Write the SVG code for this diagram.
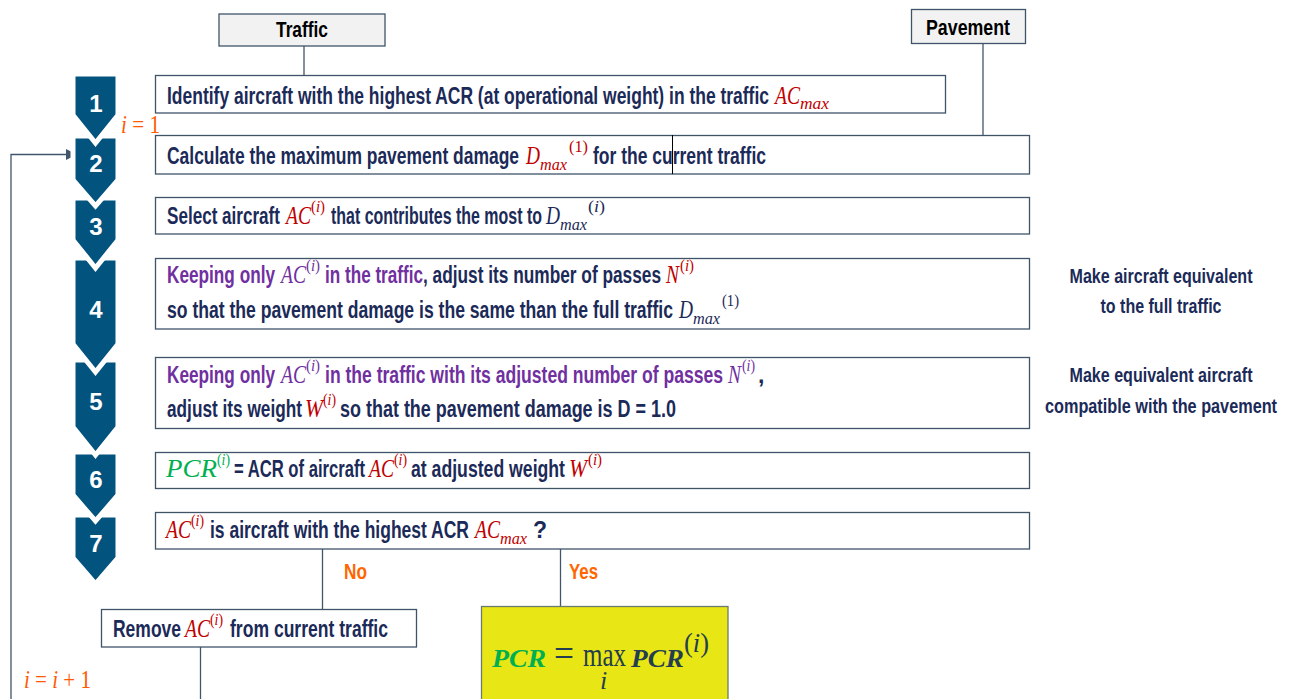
<svg xmlns="http://www.w3.org/2000/svg" width="1294" height="699" viewBox="0 0 1294 699">
<defs>
<style>
.box{fill:#fff;stroke:#3f5468;stroke-width:1.3}
.hdr{fill:#f2f2f2;stroke:#3f5468;stroke-width:1.3}
.ln{fill:none;stroke:#41566b;stroke-width:1.3}
.chev{fill:#03537f;stroke:#fff;stroke-width:5;stroke-linejoin:miter}
.num{font-family:"Liberation Sans Narrow","Liberation Sans",Arial,sans-serif;font-weight:bold;font-size:24px;fill:#fff;text-anchor:middle}
.t{font-family:"Liberation Sans Narrow","Liberation Sans",Arial,sans-serif;font-weight:bold;font-size:23px;fill:#1b2a58}
.side{font-family:"Liberation Sans Narrow","Liberation Sans",Arial,sans-serif;font-weight:bold;font-size:21px;fill:#1b2a58;text-anchor:middle}
.lab{font-family:"Liberation Sans Narrow","Liberation Sans",Arial,sans-serif;font-weight:bold;font-size:22px;fill:#000;text-anchor:middle}
.yn{font-family:"Liberation Sans Narrow","Liberation Sans",Arial,sans-serif;font-weight:bold;font-size:22px;fill:#ff6600}
.m{font-family:"Liberation Serif","DejaVu Serif",serif;font-style:italic;font-size:26px}
.s{font-family:"Liberation Serif","DejaVu Serif",serif;font-size:16px}
.sub{font-family:"Liberation Serif","DejaVu Serif",serif;font-style:italic;font-size:16px}
.it{font-style:italic}
.red{fill:#c00000}
.pur{fill:#7030a0}
.nav{fill:#1b2a58}
.grn{fill:#00b050}
.org{fill:#ff5a00}
.dk{fill:#243d4f}
</style>
<marker id="arr" markerWidth="11" markerHeight="11" refX="10" refY="5.5" orient="auto" markerUnits="userSpaceOnUse">
<path d="M0,0 L11,5.5 L0,11 Z" fill="#41566b"/>
</marker>
</defs>

<g id="connectors">
<line class="ln" x1="304" y1="46" x2="304" y2="75"/>
<line class="ln" x1="983" y1="43" x2="983" y2="135"/>
<line class="ln" x1="322.5" y1="549" x2="322.5" y2="609"/>
<line class="ln" x1="560.5" y1="549" x2="560.5" y2="606"/>
<line class="ln" x1="200.5" y1="647" x2="200.5" y2="699"/>
<polyline class="ln" points="11,699 11,154.5 76,154.5" marker-end="url(#arr)"/>
</g>

<g id="chevrons">
<polygon class="chev" points="73,515 118,515 118,558 95.5,584 73,558"/>
<polygon class="chev" points="73,452 118,452 118,495 95.5,521 73,495"/>
<polygon class="chev" points="73,360 118,360 118,427 95.5,455 73,427"/>
<polygon class="chev" points="73,258 118,258 118,344 95.5,372 73,344"/>
<polygon class="chev" points="73,198 118,198 118,240 95.5,268 73,240"/>
<polygon class="chev" points="73,136 118,136 118,180 95.5,206 73,180"/>
<polygon class="chev" points="73,74 118,74 118,115 95.5,143 73,115"/>
<text class="num" x="96" y="112">1</text>
<text class="num" x="96" y="172">2</text>
<text class="num" x="96" y="235">3</text>
<text class="num" x="96" y="318">4</text>
<text class="num" x="96" y="410">5</text>
<text class="num" x="96" y="488">6</text>
<text class="num" x="96" y="552">7</text>
</g>

<g id="traffic">
<rect class="hdr" x="219" y="14" width="166" height="32"/>
<text class="lab" x="302" y="37" textLength="52" lengthAdjust="spacingAndGlyphs">Traffic</text>
</g>

<g id="pavement">
<rect class="hdr" x="911.5" y="9.5" width="114" height="34"/>
<text class="lab" x="968" y="35" textLength="84" lengthAdjust="spacingAndGlyphs">Pavement</text>
</g>

<g id="step1">
<rect class="box" x="155.5" y="75.5" width="790" height="37.5"/>
<text class="t" x="167" y="104" textLength="602" lengthAdjust="spacingAndGlyphs">Identify aircraft with the highest ACR (at operational weight) in the traffic</text>
<text class="m red" x="775" y="104" textLength="25" lengthAdjust="spacingAndGlyphs">AC</text>
<text class="sub red" x="800" y="109" textLength="29" lengthAdjust="spacingAndGlyphs">max</text>
</g>

<g id="step2">
<rect class="box" x="155.5" y="135.5" width="874" height="38.5"/>
<text class="t" x="167" y="164" textLength="352" lengthAdjust="spacingAndGlyphs">Calculate the maximum pavement damage</text>
<text class="m red" x="526" y="164" textLength="14" lengthAdjust="spacingAndGlyphs">D</text>
<text class="sub red" x="540" y="170" textLength="27" lengthAdjust="spacingAndGlyphs">max</text>
<text class="s red" x="569" y="152" textLength="19" lengthAdjust="spacingAndGlyphs">(1)</text>
<text class="t" x="593" y="164" textLength="173" lengthAdjust="spacingAndGlyphs">for the current traffic</text>
<line x1="672.5" y1="135" x2="672.5" y2="174" stroke="#000" stroke-width="1"/>
</g>

<g id="step3">
<rect class="box" x="155.5" y="197.5" width="874" height="36.5"/>
<text class="t" x="167" y="224" textLength="113" lengthAdjust="spacingAndGlyphs">Select aircraft</text>
<text class="m red" x="286" y="224" textLength="25" lengthAdjust="spacingAndGlyphs">AC</text>
<text class="s red" x="311" y="212" textLength="14" lengthAdjust="spacingAndGlyphs">(<tspan class="it">i</tspan>)</text>
<text class="t" x="331" y="224" textLength="211" lengthAdjust="spacingAndGlyphs">that contributes the most to</text>
<text class="m nav" x="546" y="224" textLength="14" lengthAdjust="spacingAndGlyphs">D</text>
<text class="sub nav" x="560" y="230" textLength="27" lengthAdjust="spacingAndGlyphs">max</text>
<text class="s nav" x="588" y="212" textLength="17" lengthAdjust="spacingAndGlyphs">(<tspan class="it">i</tspan>)</text>
</g>

<g id="step4">
<rect class="box" x="155.5" y="258.5" width="874" height="70.5"/>
<text class="t pur" x="167" y="283" textLength="108" lengthAdjust="spacingAndGlyphs">Keeping only</text>
<text class="m pur" x="281" y="283" textLength="25" lengthAdjust="spacingAndGlyphs">AC</text>
<text class="s pur" x="306" y="271" textLength="14" lengthAdjust="spacingAndGlyphs">(<tspan class="it">i</tspan>)</text>
<text class="t pur" x="325" y="283" textLength="98" lengthAdjust="spacingAndGlyphs">in the traffic</text>
<text class="t" x="423" y="283" textLength="238" lengthAdjust="spacingAndGlyphs">, adjust its number of passes</text>
<text class="m red" x="666" y="283" textLength="13" lengthAdjust="spacingAndGlyphs">N</text>
<text class="s red" x="680" y="271" textLength="14" lengthAdjust="spacingAndGlyphs">(<tspan class="it">i</tspan>)</text>
<text class="t" x="167" y="318" textLength="506" lengthAdjust="spacingAndGlyphs">so that the pavement damage is the same than the full traffic</text>
<text class="m nav" x="679" y="318" textLength="14" lengthAdjust="spacingAndGlyphs">D</text>
<text class="sub nav" x="693" y="324" textLength="27" lengthAdjust="spacingAndGlyphs">max</text>
<text class="s nav" x="722" y="306" textLength="17" lengthAdjust="spacingAndGlyphs">(1)</text>
</g>

<g id="step5">
<rect class="box" x="155.5" y="357.5" width="874" height="71"/>
<text class="t pur" x="167" y="383" textLength="108" lengthAdjust="spacingAndGlyphs">Keeping only</text>
<text class="m pur" x="281" y="383" textLength="25" lengthAdjust="spacingAndGlyphs">AC</text>
<text class="s pur" x="306" y="371" textLength="14" lengthAdjust="spacingAndGlyphs">(<tspan class="it">i</tspan>)</text>
<text class="t pur" x="325" y="383" textLength="398" lengthAdjust="spacingAndGlyphs">in the traffic with its adjusted number of passes</text>
<text class="m pur" x="728" y="383" textLength="13" lengthAdjust="spacingAndGlyphs">N</text>
<text class="s pur" x="742" y="371" textLength="13" lengthAdjust="spacingAndGlyphs">(<tspan class="it">i</tspan>)</text>
<text class="t" x="758" y="383">,</text>
<text class="t" x="167" y="417" textLength="135" lengthAdjust="spacingAndGlyphs">adjust its weight</text>
<text class="m red" x="305" y="417" textLength="18" lengthAdjust="spacingAndGlyphs">W</text>
<text class="s red" x="323" y="405" textLength="13" lengthAdjust="spacingAndGlyphs">(<tspan class="it">i</tspan>)</text>
<text class="t" x="340" y="417" textLength="336" lengthAdjust="spacingAndGlyphs">so that the pavement damage is D = 1.0</text>
</g>

<g id="step6">
<rect class="box" x="155.5" y="452.5" width="874" height="36"/>
<text class="m grn" x="166" y="477" textLength="51" lengthAdjust="spacingAndGlyphs">PCR</text>
<text class="s grn" x="217" y="465" textLength="13" lengthAdjust="spacingAndGlyphs">(<tspan class="it">i</tspan>)</text>
<text class="t" x="234" y="477" textLength="131" lengthAdjust="spacingAndGlyphs">= ACR of aircraft</text>
<text class="m red" x="369" y="477" textLength="25" lengthAdjust="spacingAndGlyphs">AC</text>
<text class="s red" x="394" y="465" textLength="13" lengthAdjust="spacingAndGlyphs">(<tspan class="it">i</tspan>)</text>
<text class="t" x="411" y="477" textLength="154" lengthAdjust="spacingAndGlyphs">at adjusted weight</text>
<text class="m red" x="569" y="477" textLength="18" lengthAdjust="spacingAndGlyphs">W</text>
<text class="s red" x="588" y="465" textLength="14" lengthAdjust="spacingAndGlyphs">(<tspan class="it">i</tspan>)</text>
</g>

<g id="step7">
<rect class="box" x="155.5" y="512.5" width="874" height="36.5"/>
<text class="m red" x="166" y="538" textLength="25" lengthAdjust="spacingAndGlyphs">AC</text>
<text class="s red" x="191" y="526" textLength="13" lengthAdjust="spacingAndGlyphs">(<tspan class="it">i</tspan>)</text>
<text class="t" x="210" y="538" textLength="259" lengthAdjust="spacingAndGlyphs">is aircraft with the highest ACR</text>
<text class="m red" x="475" y="538" textLength="25" lengthAdjust="spacingAndGlyphs">AC</text>
<text class="sub red" x="500" y="544" textLength="27" lengthAdjust="spacingAndGlyphs">max</text>
<text class="t" x="533" y="538" font-weight="normal">?</text>
</g>

<g id="note-equivalent">
<text class="side" x="1161" y="283" textLength="183" lengthAdjust="spacingAndGlyphs">Make aircraft equivalent</text>
<text class="side" x="1161" y="313" textLength="121" lengthAdjust="spacingAndGlyphs">to the full traffic</text>
</g>

<g id="note-compatible">
<text class="side" x="1161" y="382" textLength="183" lengthAdjust="spacingAndGlyphs">Make equivalent aircraft</text>
<text class="side" x="1161" y="413" textLength="232" lengthAdjust="spacingAndGlyphs">compatible with the pavement</text>
</g>

<g id="labels">
<text class="yn" x="344" y="579" textLength="23" lengthAdjust="spacingAndGlyphs">No</text>
<text class="yn" x="569" y="579" textLength="29" lengthAdjust="spacingAndGlyphs">Yes</text>
<text class="m org" x="121" y="133" font-size="24" textLength="39" lengthAdjust="spacingAndGlyphs">i<tspan font-style="normal"> = 1</tspan></text>
<text class="m org" x="24" y="688" font-size="24" textLength="67" lengthAdjust="spacingAndGlyphs">i<tspan font-style="normal"> = </tspan>i<tspan font-style="normal"> + 1</tspan></text>
</g>

<g id="remove">
<rect class="box" x="101.5" y="609.5" width="315" height="37.5"/>
<text class="t" x="113" y="637" textLength="68" lengthAdjust="spacingAndGlyphs">Remove</text>
<text class="m red" x="185" y="637" textLength="25" lengthAdjust="spacingAndGlyphs">AC</text>
<text class="s red" x="210" y="625" textLength="13" lengthAdjust="spacingAndGlyphs">(<tspan class="it">i</tspan>)</text>
<text class="t" x="230" y="637" textLength="158" lengthAdjust="spacingAndGlyphs">from current traffic</text>
</g>

<g id="result">
<rect x="481.5" y="606.5" width="246.5" height="100" fill="#e8e614" stroke="#6b7b6e" stroke-width="1.3"/>
<text class="m grn" x="492" y="667" font-size="44" font-weight="bold" textLength="54" lengthAdjust="spacingAndGlyphs">PCR</text>
<text class="dk" x="554" y="666" font-family="Liberation Serif, serif" font-size="38" textLength="20" lengthAdjust="spacingAndGlyphs">=</text>
<text class="dk" x="583" y="666" font-family="Liberation Serif, serif" font-size="34" textLength="43" lengthAdjust="spacingAndGlyphs">max</text>
<text class="m dk" x="600" y="689" font-size="26">i</text>
<text class="m dk" x="631" y="667" font-size="44" font-weight="bold" textLength="53" lengthAdjust="spacingAndGlyphs">PCR</text>
<text class="dk" x="684" y="652" font-family="Liberation Serif, serif" font-size="27" textLength="25" lengthAdjust="spacingAndGlyphs">(<tspan font-style="italic">i</tspan>)</text>
</g>
</svg>
